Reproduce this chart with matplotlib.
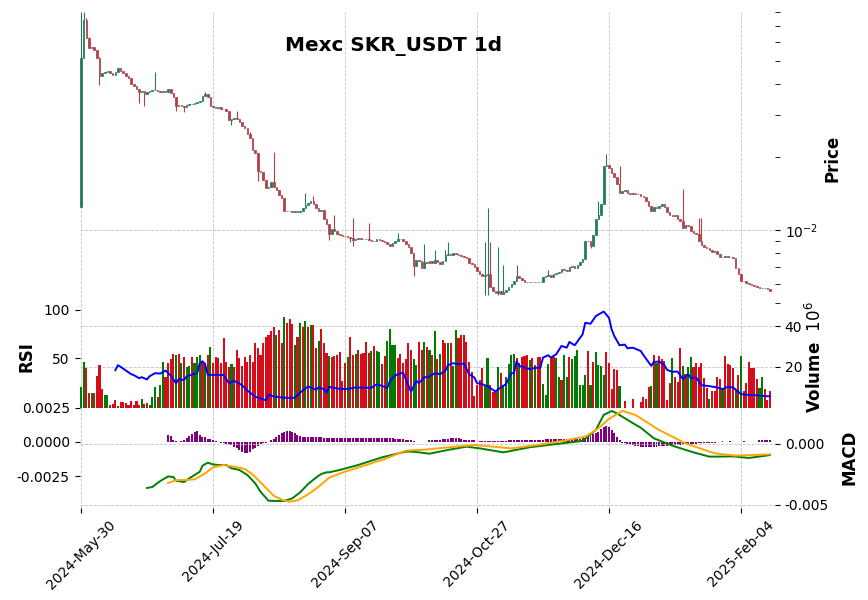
import matplotlib
matplotlib.use("Agg")
import matplotlib.pyplot as plt
import matplotlib.ticker as mticker
import numpy as np
import pandas as pd

# Mexc SKR_USDT daily candles, starting 2024-05-30
START_DATE = "2024-05-30"

open_ = [0.0125, 0.0512, 0.0738, 0.0620, 0.0564, 0.0573, 0.0555, 0.0512, 0.0431, 0.0444,
         0.0451, 0.0454, 0.0444, 0.0437, 0.0451, 0.0466, 0.0456, 0.0444, 0.0435, 0.0424,
         0.0403, 0.0395, 0.0383, 0.0371, 0.0376, 0.0364, 0.0371, 0.0376, 0.0378, 0.0380,
         0.0376, 0.0373, 0.0376, 0.0373, 0.0382, 0.0367, 0.0353, 0.0324, 0.0329, 0.0324,
         0.0322, 0.0328, 0.0331, 0.0333, 0.0335, 0.0337, 0.0341, 0.0359, 0.0364, 0.0356,
         0.0324, 0.0321, 0.0320, 0.0321, 0.0317, 0.0315, 0.0311, 0.0285, 0.0288, 0.0290,
         0.0288, 0.0279, 0.0268, 0.0263, 0.0249, 0.0240, 0.0214, 0.0208, 0.0175, 0.0173,
         0.0161, 0.0149, 0.0150, 0.0158, 0.0151, 0.0147, 0.0139, 0.0135, 0.0120, 0.01196,
         0.01193, 0.01189, 0.0120, 0.01185, 0.0120, 0.01231, 0.01271, 0.01287, 0.01312, 0.01283,
         0.01231, 0.0120, 0.01212, 0.01112, 0.01058, 0.00961, 0.01012, 0.00986, 0.00961, 0.00955,
         0.00946, 0.00940, 0.00935, 0.00926, 0.00911, 0.00920, 0.00926, 0.00920, 0.00917, 0.00914,
         0.00908, 0.00903, 0.00900, 0.00920, 0.00905, 0.00897, 0.00889, 0.00875, 0.00858, 0.00886,
         0.00903, 0.00920, 0.00914, 0.00903, 0.00875, 0.00847, 0.00802, 0.00707, 0.00753, 0.00741,
         0.00696, 0.00736, 0.00727, 0.00741, 0.00732, 0.00748, 0.00736, 0.00723, 0.00746, 0.00785,
         0.00795, 0.00790, 0.00802, 0.00797, 0.00785, 0.00780, 0.00775, 0.00765, 0.00727, 0.00723,
         0.00700, 0.00678, 0.00657, 0.00643, 0.00649, 0.00657, 0.00579, 0.00561, 0.00550, 0.00557,
         0.00543, 0.00554, 0.00564, 0.00582, 0.00598, 0.00613, 0.00643, 0.00633, 0.00621, 0.00609,
         0.00607, 0.00611, 0.00609, 0.00607, 0.00611, 0.00609, 0.00637, 0.00645, 0.00651, 0.00637,
         0.00657, 0.00661, 0.00670, 0.00692, 0.00681, 0.00676, 0.00700, 0.00709, 0.00698, 0.00718,
         0.00736, 0.00760, 0.00903, 0.00897, 0.00855, 0.00955, 0.01112, 0.01155, 0.01279, 0.01830,
         0.01859, 0.01812, 0.01728, 0.01648, 0.01547, 0.01419, 0.01451, 0.01461, 0.01428, 0.01406,
         0.01428, 0.01415, 0.01402, 0.01388, 0.01367, 0.01316, 0.01255, 0.01200, 0.01239, 0.01227,
         0.01255, 0.01283, 0.01239, 0.01182, 0.01155, 0.01140, 0.01151, 0.01108, 0.01094, 0.01018,
         0.01048, 0.01038, 0.00992, 0.00974, 0.00958, 0.00897, 0.00869, 0.00850, 0.00845, 0.00823,
         0.00810, 0.00820, 0.00799, 0.00775, 0.00770, 0.00783, 0.00775, 0.00770, 0.00763, 0.00696,
         0.00657, 0.00617, 0.00613, 0.00605, 0.00596, 0.00592, 0.00586, 0.00579, 0.00575, 0.00573,
         0.00577, 0.00570]

close = [0.0512, 0.0738, 0.0620, 0.0564, 0.0573, 0.0555, 0.0512, 0.0431, 0.0444, 0.0451,
         0.0454, 0.0444, 0.0437, 0.0451, 0.0466, 0.0456, 0.0444, 0.0435, 0.0424, 0.0403,
         0.0395, 0.0383, 0.0371, 0.0376, 0.0364, 0.0371, 0.0376, 0.0378, 0.0380, 0.0376,
         0.0373, 0.0376, 0.0373, 0.0382, 0.0367, 0.0353, 0.0324, 0.0329, 0.0324, 0.0322,
         0.0328, 0.0331, 0.0333, 0.0335, 0.0337, 0.0341, 0.0359, 0.0364, 0.0356, 0.0324,
         0.0321, 0.0320, 0.0321, 0.0317, 0.0315, 0.0311, 0.0285, 0.0288, 0.0290, 0.0288,
         0.0279, 0.0268, 0.0263, 0.0249, 0.0240, 0.0214, 0.0208, 0.0175, 0.0173, 0.0161,
         0.0149, 0.0150, 0.0158, 0.0151, 0.0147, 0.0139, 0.0135, 0.0120, 0.01196, 0.01193,
         0.01189, 0.0120, 0.01185, 0.0120, 0.01231, 0.01271, 0.01287, 0.01312, 0.01283, 0.01231,
         0.0120, 0.01212, 0.01112, 0.01058, 0.00961, 0.01012, 0.00986, 0.00961, 0.00955, 0.00946,
         0.00940, 0.00935, 0.00926, 0.00911, 0.00920, 0.00926, 0.00920, 0.00917, 0.00914, 0.00908,
         0.00903, 0.00900, 0.00920, 0.00905, 0.00897, 0.00889, 0.00875, 0.00858, 0.00886, 0.00903,
         0.00920, 0.00914, 0.00903, 0.00875, 0.00847, 0.00802, 0.00707, 0.00753, 0.00741, 0.00696,
         0.00736, 0.00727, 0.00741, 0.00732, 0.00748, 0.00736, 0.00723, 0.00746, 0.00785, 0.00795,
         0.00790, 0.00802, 0.00797, 0.00785, 0.00780, 0.00775, 0.00765, 0.00727, 0.00723, 0.00700,
         0.00678, 0.00657, 0.00643, 0.00649, 0.00657, 0.00579, 0.00561, 0.00550, 0.00557, 0.00543,
         0.00554, 0.00564, 0.00582, 0.00598, 0.00613, 0.00643, 0.00633, 0.00621, 0.00609, 0.00607,
         0.00611, 0.00609, 0.00607, 0.00611, 0.00609, 0.00637, 0.00645, 0.00651, 0.00637, 0.00657,
         0.00661, 0.00670, 0.00692, 0.00681, 0.00676, 0.00700, 0.00709, 0.00698, 0.00718, 0.00736,
         0.00760, 0.00903, 0.00897, 0.00855, 0.00955, 0.01112, 0.01155, 0.01279, 0.01830, 0.01859,
         0.01812, 0.01728, 0.01648, 0.01547, 0.01419, 0.01451, 0.01461, 0.01428, 0.01406, 0.01428,
         0.01415, 0.01402, 0.01388, 0.01367, 0.01316, 0.01255, 0.01200, 0.01239, 0.01227, 0.01255,
         0.01283, 0.01239, 0.01182, 0.01155, 0.01140, 0.01151, 0.01108, 0.01094, 0.01018, 0.01048,
         0.01038, 0.00992, 0.00974, 0.00958, 0.00897, 0.00869, 0.00850, 0.00845, 0.00823, 0.00810,
         0.00820, 0.00799, 0.00775, 0.00770, 0.00783, 0.00775, 0.00770, 0.00763, 0.00696, 0.00657,
         0.00617, 0.00613, 0.00605, 0.00596, 0.00592, 0.00586, 0.00579, 0.00575, 0.00573, 0.00577,
         0.00570, 0.00561]

# only the wicks that stick out visibly from the bodies
high_days = [0, 1, 2, 3, 7, 28, 47, 56, 59, 64, 73, 85, 88, 96, 103, 109, 120, 130, 134,
             138, 139, 153, 154, 155, 158, 160, 165, 177, 196, 199, 204, 228, 234, 235]
high_vals = [0.0798, 0.0798, 0.0750, 0.0630, 0.0520, 0.0451, 0.0371, 0.0309, 0.0309, 0.0255,
             0.0211, 0.0142, 0.0138, 0.01155, 0.01126, 0.01068, 0.00970, 0.00875, 0.00829,
             0.00829, 0.00891, 0.00891, 0.01231, 0.00891, 0.00847, 0.00718, 0.00718, 0.00681,
             0.01312, 0.02057, 0.01830, 0.01475, 0.01119, 0.01119]
low_days = [7, 22, 24, 36, 39, 57, 67, 94, 102, 103, 126, 153, 154, 158, 193]
low_vals = [0.0398, 0.0334, 0.0324, 0.0311, 0.0307, 0.0272, 0.0159, 0.00911, 0.00891,
            0.00855, 0.00643, 0.00539, 0.00540, 0.00540, 0.00842]

# volume in millions, U = up bar, D = down bar
volume_m = [10.0, 22.5, 19.5, 7.2, 7.2, 7.2, 15.6, 20.8, 9.1, 6.2,
            6.2, 1.1, 1.6, 3.7, 0.7, 2.7, 2.7, 2.1, 1.1, 3.4,
            1.1, 3.4, 1.1, 4.2, 1.7, 2.1, 1.1, 5.2, 10.1, 5.2,
            11.1, 22.5, 15.2, 22.1, 24.1, 26.4, 25.9, 26.4, 22.1, 25.1,
            19.8, 20.7, 25.1, 21.8, 24.8, 25.9, 22.3, 21.8, 25.9, 29.7,
            21.8, 24.8, 24.3, 22.1, 34.2, 22.5, 20.2, 21.5, 20.2, 28.4,
            24.3, 20.5, 25.1, 22.6, 25.9, 22.5, 31.7, 29.2, 25.9, 32.0,
            35.0, 35.8, 37.8, 39.6, 35.8, 38.3, 31.7, 44.5, 41.9, 43.5,
            41.2, 30.9, 35.0, 41.6, 39.9, 42.9, 39.9, 40.7, 40.7, 29.2,
            32.7, 38.6, 31.7, 27.1, 25.4, 25.1, 25.4, 25.9, 27.6, 12.9,
            21.8, 24.8, 35.0, 25.9, 26.4, 28.4, 26.4, 26.7, 32.2, 26.7,
            28.1, 30.4, 28.1, 27.6, 21.3, 25.4, 32.9, 38.6, 30.9, 30.9,
            24.3, 26.4, 21.8, 23.8, 31.7, 28.4, 23.8, 21.0, 32.5, 28.4,
            32.2, 30.0, 28.4, 25.9, 37.8, 23.8, 26.4, 33.3, 31.7, 31.7,
            31.7, 20.5, 38.3, 34.2, 35.8, 35.8, 32.5, 22.6, 17.7, 5.7,
            11.1, 13.6, 19.3, 11.1, 24.4, 11.1, 7.8, 7.8, 20.2, 16.9,
            11.1, 15.2, 21.3, 25.9, 26.4, 24.3, 21.8, 25.1, 25.6, 25.9,
            23.5, 24.3, 21.0, 25.1, 25.1, 11.4, 6.2, 21.5, 25.1, 25.1,
            24.3, 15.2, 13.6, 25.9, 15.2, 24.8, 23.8, 25.4, 28.4, 11.1,
            11.1, 16.0, 27.9, 11.1, 22.6, 27.6, 21.0, 20.5, 16.0, 27.6,
            21.8, 9.0, 19.0, 18.5, 10.6, 0.0, 3.4, 0.0, 0.0, 4.2,
            0.0, 0.0, 2.9, 5.0, 4.0, 10.0, 10.6, 25.9, 21.8, 25.4,
            23.8, 23.1, 3.7, 11.9, 24.3, 15.2, 12.8, 29.2, 20.5, 16.5,
            19.8, 24.8, 19.8, 21.8, 20.2, 22.1, 14.4, 9.5, 4.0, 8.3,
            8.3, 15.2, 13.9, 9.0, 25.4, 21.5, 21.0, 19.3, 8.6, 16.0,
            25.4, 8.3, 11.9, 22.6, 19.3, 19.3, 13.9, 9.5, 14.9, 9.0,
            3.7, 8.0]
volume_dir = ("UUDDUDDDDU" "UDDDUDDDDD" "DDDUDDUUUD" "UUDDDDUDUD" "UUDUUUDUDU"
              "DDDDDDDUDD" "DDDDDDDDDD" "DDDDUDDUDD" "DUDUDUDUDD" "UDDDUDDDDD"
              "DUDDUDDDDD" "UDUUDDUUUU" "DDDDDDUUDD" "UDUDUDUDDU" "DUUDDDDDDD"
              "DDDUUDDDUD" "UUUUUDUDDD" "UDUDDUUUDD" "UUDUUDUUUU" "UUDUDUUUUD"
              "DDDDUDDDDD" "DDDDDDUDUD" "DDDDUDDDUD" "UUDDDDDDUD" "DDDUDDDDUD"
              "UDDDDDDUUD" "DD")

# RSI line, sampled day offsets and values
rsi_days = [13, 14, 15, 17, 19, 20, 22, 23, 25, 26, 28, 30, 32, 34, 36, 37, 39, 40, 42, 44,
            45, 46, 47, 48, 52, 54, 56, 58, 61, 63, 66, 68, 70, 71, 73, 77, 81, 83, 86, 88,
            89, 90, 92, 93, 94, 97, 100, 102, 104, 110, 111, 112, 114, 116, 117, 119, 120, 122,
            123, 125, 127, 128, 130, 132, 134, 136, 138, 139, 141, 143, 145, 147, 149, 150, 152,
            154, 156, 157, 159, 161, 163, 164, 165, 166, 168, 170, 172, 174, 175, 177, 178, 180,
            182, 184, 185, 187, 190, 191, 193, 195, 196, 198, 200, 201, 202, 204, 206, 207, 209,
            212, 214, 216, 217, 219, 221, 222, 224, 226, 228, 230, 231, 233, 235, 238, 241, 243,
            245, 247, 250, 252, 255, 259, 261]
rsi_vals = [37.8, 42.9, 41.2, 37.4, 33.7, 32.7, 29.6, 30.6, 28.3, 31.6, 34.7, 34.3, 37.4, 32.3,
            24.5, 28.6, 27.6, 31.3, 33.3, 34.7, 45.0, 46.9, 44.0, 33.0, 33.0, 32.7, 24.5, 26.9,
            22.4, 17.0, 10.5, 8.8, 6.8, 12.6, 10.9, 9.5, 9.5, 14.9, 21.1, 19.0, 17.7, 20.1, 18.4,
            14.6, 20.7, 19.0, 18.4, 19.0, 20.1, 19.7, 21.8, 23.1, 21.8, 19.4, 26.5, 32.7, 33.3,
            35.4, 28.6, 15.6, 26.9, 24.5, 30.3, 31.3, 34.7, 33.7, 37.1, 42.9, 44.9, 43.9, 44.6,
            33.7, 30.3, 24.5, 23.5, 21.1, 17.7, 16.0, 20.1, 23.5, 34.7, 34.7, 46.9, 42.2, 40.5,
            38.8, 40.1, 40.5, 50.7, 53.1, 50.7, 54.1, 62.6, 60.9, 66.7, 63.3, 74.5, 86.4, 85.4,
            93.2, 94.9, 97.9, 91.5, 79.6, 72.8, 63.3, 64.0, 60.2, 60.9, 57.5, 49.7, 42.2, 46.3,
            46.6, 42.9, 38.1, 36.1, 36.4, 28.6, 33.7, 29.6, 30.3, 22.4, 21.4, 20.1, 18.4, 20.7,
            20.1, 13.3, 12.6, 12.2, 11.2, 10.9]

# MACD (x 1e-3): line, signal and histogram
macd_days = [25, 27, 30, 33, 35, 36, 39, 41, 45, 46, 48, 50, 52, 55, 57, 60, 63, 66, 68, 71,
             74, 77, 80, 83, 86, 89, 91, 93, 94, 98, 105, 114, 123, 125, 128, 132, 139, 146,
             151, 160, 170, 179, 190, 195, 198, 201, 203, 207, 212, 217, 224, 232, 238, 242,
             247, 253, 261]
macd_milli = [-3.62, -3.54, -3.05, -2.67, -2.72, -3.02, -3.13, -2.83, -2.28, -1.79, -1.54,
              -1.68, -1.73, -1.73, -2.00, -2.14, -2.55, -3.24, -3.93, -4.67, -4.69, -4.69,
              -4.48, -3.98, -3.30, -2.77, -2.47, -2.33, -2.33, -2.14, -1.73, -1.10, -0.63,
              -0.63, -0.69, -0.80, -0.49, -0.22, -0.36, -0.69, -0.27, -0.03, 0.25, 1.15, 2.39,
              2.72, 2.52, 1.98, 1.34, 0.47, -0.14, -0.69, -1.04, -1.04, -1.02, -1.15, -0.91]
signal_days = [33, 36, 39, 43, 47, 50, 54, 58, 62, 65, 69, 73, 76, 79, 82, 86, 90, 94, 100,
               106, 115, 123, 130, 138, 149, 163, 173, 183, 191, 196, 200, 205, 210, 219, 229,
               240, 248, 261]
signal_milli = [-3.21, -2.97, -2.97, -2.91, -2.42, -1.92, -1.73, -1.87, -2.06, -2.50, -3.38,
                -4.26, -4.59, -4.75, -4.64, -4.15, -3.52, -2.77, -2.28, -1.87, -1.24, -0.55,
                -0.47, -0.30, -0.08, -0.36, -0.08, 0.28, 0.60, 1.29, 2.06, 2.72, 2.39, 1.15,
                0.05, -0.77, -0.96, -0.85]
HIST_START = 33
hist_milli = [0.49, 0.42, 0.15, 0.05, 0.02, 0.05, 0.15, 0.29, 0.44, 0.54,
              0.73, 0.78, 0.49, 0.37, 0.32, 0.20, 0.24, 0.12, 0.05, 0.02,
              -0.07, -0.07, -0.14, -0.14, -0.24, -0.36, -0.48, -0.60, -0.73, -0.85,
              -0.85, -0.73, -0.56, -0.44, -0.29, -0.17, -0.10, -0.05,
              0.02, 0.10, 0.24, 0.37, 0.49, 0.63, 0.73, 0.78, 0.78, 0.73, 0.61, 0.49, 0.42, 0.37,
              0.34, 0.33, 0.33, 0.32, 0.32, 0.32, 0.32, 0.31, 0.31, 0.31, 0.31, 0.30, 0.30, 0.30, 0.30,
              0.29, 0.29, 0.30, 0.29, 0.29, 0.28, 0.29, 0.29, 0.29, 0.28, 0.29, 0.29, 0.28, 0.28,
              0.29, 0.28, 0.28, 0.27, 0.27,
              0.24, 0.24, 0.24, 0.24, 0.17, 0.17, 0.17, 0.05,
              0.0, 0.0, 0.0, 0.0, 0.0,
              0.17, 0.17, 0.17, 0.17, 0.17, 0.20, 0.22, 0.22, 0.25,
              0.30, 0.30, 0.30, 0.22, 0.17, 0.17, 0.15, 0.12, 0.10,
              0.0,
              0.05, 0.05, 0.05, 0.05, 0.05, 0.05, 0.05, 0.05, 0.05, 0.05, 0.05,
              0.12, 0.14, 0.15, 0.16, 0.17, 0.17, 0.17, 0.17, 0.17, 0.17, 0.17, 0.17, 0.17, 0.17,
              0.18, 0.18, 0.18, 0.18, 0.18, 0.18, 0.18, 0.19, 0.19, 0.19, 0.20, 0.20, 0.21, 0.22,
              0.25, 0.30, 0.37, 0.45, 0.55, 0.65, 0.73, 0.95, 1.10, 1.17, 1.05, 0.85, 0.61, 0.32, 0.12,
              -0.05, -0.12, -0.18, -0.22, -0.24, -0.28, -0.32, -0.36, -0.41, -0.41, -0.41, -0.41,
              -0.38, -0.36, -0.34, -0.31, -0.29, -0.27, -0.25, -0.24, -0.22, -0.21, -0.20, -0.19,
              -0.17, -0.16, -0.15, -0.14, -0.13, -0.12, -0.12, -0.11, -0.10, -0.08, -0.07, -0.05, -0.03,
              0.0, 0.03, 0.0, 0.0, 0.05, 0.0, 0.0, 0.0, 0.0, 0.07,
              0.0, 0.0, 0.0, 0.0, 0.0, 0.17, 0.17, 0.17, 0.17, 0.17]

UP_C, DOWN_C = "#006340", "#a02128"
VUP_C, VDOWN_C = "#007a00", "#d50d18"
GRID = dict(color="#c4c4c4", linestyle="--", linewidth=0.6)

o = np.array(open_)
c = np.array(close)
n = len(c)
x = np.arange(n)
dates = pd.date_range(START_DATE, periods=n, freq="D")
up = c >= o
body_top = np.maximum(o, c)
body_bot = np.minimum(o, c)

fig = plt.figure(figsize=(8.68, 6), dpi=100)
L, W = 0.0916, 0.8013
ax_p = fig.add_axes([L, 0.490, W, 0.4908])
ax_v = fig.add_axes([L, 0.3208, W, 0.1692], sharex=ax_p)
ax_m = fig.add_axes([L, 0.1533, W, 0.1675], sharex=ax_p)

for ax in (ax_p, ax_v, ax_m):
    ax.set_facecolor("white")
    ax.set_axisbelow(True)
    for s in ax.spines.values():
        s.set_visible(False)
    ax.xaxis.grid(True, **GRID)

# twin axes: RSI shares the volume panel, MACD lines share the histogram panel
ax_r = ax_v.twinx()
ax_l = ax_m.twinx()
for ax in (ax_r, ax_l):
    for s in ax.spines.values():
        s.set_visible(False)

# --- price panel
col = np.where(up, UP_C, DOWN_C)
ax_p.bar(x, body_top - body_bot, bottom=body_bot, width=0.6, color=col,
         edgecolor=col, linewidth=0.5, alpha=0.85)
hd = np.array(high_days)
ax_p.vlines(hd, body_top[hd], high_vals, colors=col[hd], linewidth=0.8, alpha=0.85)
ld = np.array(low_days)
ax_p.vlines(ld, low_vals, body_bot[ld], colors=col[ld], linewidth=0.8, alpha=0.85)
ax_p.set_yscale("log")
ax_p.set_ylim(0.00485, 0.0800)
ax_p.set_xlim(-0.57, 262.9)
ax_p.yaxis.tick_right()
ax_p.yaxis.set_label_position("right")
ax_p.yaxis.set_minor_locator(mticker.LogLocator(base=10, subs=np.arange(2, 10)))
ax_p.yaxis.set_minor_formatter(mticker.NullFormatter())
ax_p.yaxis.grid(True, which="major", **GRID)
ax_p.tick_params(axis="y", which="both", length=3.5, labelsize=10)
ax_p.tick_params(axis="x", bottom=False, labelbottom=False)
ax_p.set_ylabel("Price", fontsize=12, fontweight="bold", labelpad=4)

# --- volume + RSI panel
vcol = [VUP_C if d == "U" else VDOWN_C for d in volume_dir]
ax_v.bar(x, volume_m, width=0.8, color=vcol)
ax_v.set_ylim(0, 50.1)
ax_v.set_yticks([20, 40])
ax_v.yaxis.tick_right()
ax_v.yaxis.set_label_position("right")
ax_v.yaxis.grid(True, **GRID)
ax_v.tick_params(axis="y", length=3.5, labelsize=10)
ax_v.tick_params(axis="x", bottom=False, labelbottom=False)
ax_v.set_ylabel("Volume  $10^{6}$", fontsize=12, fontweight="bold", labelpad=2)

ax_r.plot(rsi_days, rsi_vals, color="#0000ff", linewidth=1.4)
ax_r.set_ylim(-0.5, 103.6)
ax_r.set_yticks([50, 100])
ax_r.yaxis.tick_left()
ax_r.yaxis.set_label_position("left")
ax_r.tick_params(axis="y", length=3.5, labelsize=10)
ax_r.set_ylabel("RSI", fontsize=12, fontweight="bold", labelpad=6)

# --- MACD panel: histogram on the left axis, lines on the right axis
hx = np.arange(HIST_START, HIST_START + len(hist_milli))
ax_m.bar(hx, np.array(hist_milli) * 1e-3, width=0.75, color="purple")
ax_m.set_ylim(-4.84e-3, 2.51e-3)
ax_m.set_yticks([-0.0025, 0.0, 0.0025])
ax_m.yaxis.tick_left()
ax_m.yaxis.set_major_formatter(mticker.FormatStrFormatter("%.4f"))
ax_m.tick_params(axis="y", length=3.5, labelsize=10)

ax_l.plot(macd_days, np.array(macd_milli) * 1e-3, color="green", linewidth=1.4)
ax_l.plot(signal_days, np.array(signal_milli) * 1e-3, color="orange", linewidth=1.4)
ax_l.set_ylim(-5.27e-3, 3.0e-3)
ax_l.set_yticks([-0.005, 0.0])
ax_l.yaxis.tick_right()
ax_l.yaxis.set_label_position("right")
ax_l.yaxis.set_major_formatter(mticker.FormatStrFormatter("%.3f"))
ax_l.yaxis.grid(True, **GRID)
ax_l.tick_params(axis="y", length=3.5, labelsize=10)
ax_l.set_ylabel("MACD", fontsize=12, fontweight="bold", labelpad=8)

ticks = np.arange(0, n, 50)
ax_m.set_xticks(ticks)
ax_m.set_xticklabels([dates[i].strftime("%Y-%b-%d") for i in ticks], rotation=45)
ax_m.tick_params(axis="x", length=3.5, labelsize=10)

fig.text(0.453, 0.923, "Mexc SKR_USDT 1d", fontsize=14.4, fontweight="bold",
         ha="center", va="center")

fig.savefig("out.png", dpi=100)
